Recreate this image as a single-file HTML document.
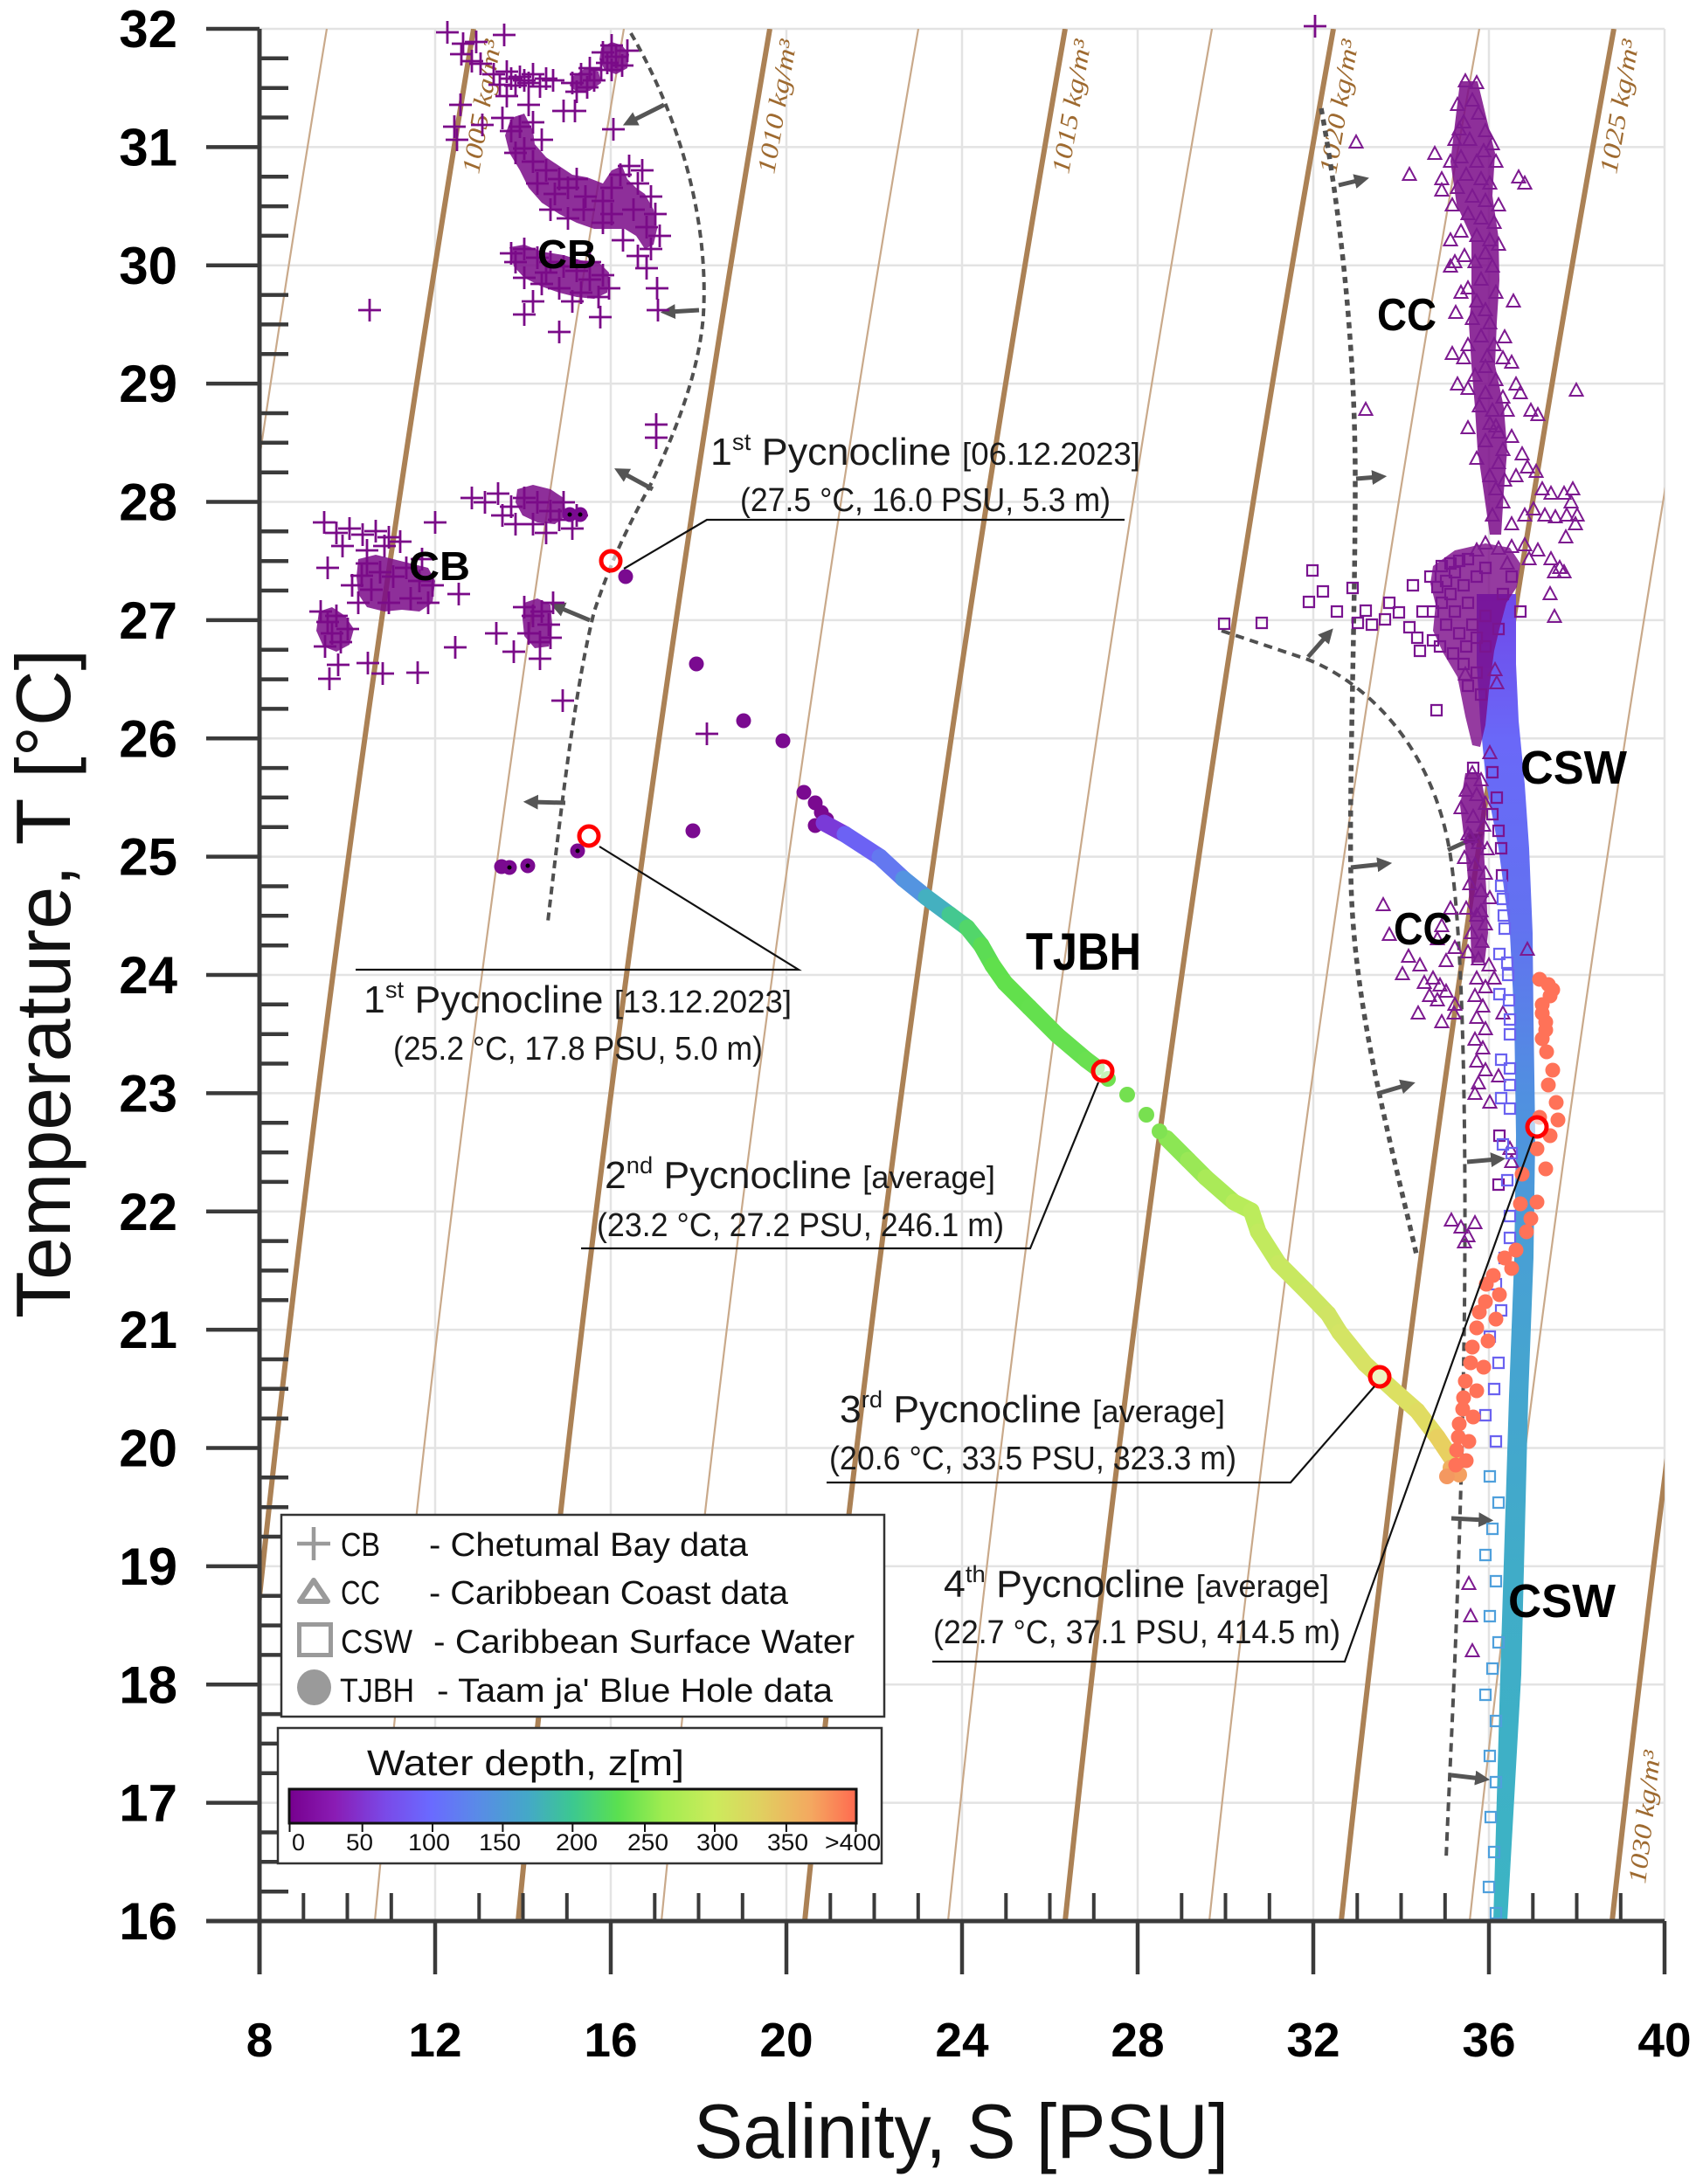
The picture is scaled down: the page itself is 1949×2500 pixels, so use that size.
<!DOCTYPE html>
<html><head><meta charset="utf-8"><style>html,body{margin:0;padding:0;background:#fff}svg{display:block}</style></head>
<body>
<svg xmlns="http://www.w3.org/2000/svg" width="1949" height="2500" viewBox="0 0 1949 2500" font-family="'Liberation Sans', 'DejaVu Sans', sans-serif">
<defs>
<clipPath id="pc"><rect x="297" y="33" width="1608" height="2166"/></clipPath>
<linearGradient id="cbar" x1="0" y1="0" x2="1" y2="0">
<stop offset="0" stop-color="#76008e"/><stop offset="0.08" stop-color="#8a1cb4"/><stop offset="0.17" stop-color="#7a4ae8"/><stop offset="0.25" stop-color="#6a6aff"/><stop offset="0.33" stop-color="#5a8ae8"/><stop offset="0.42" stop-color="#44a8c8"/><stop offset="0.5" stop-color="#3cc890"/><stop offset="0.58" stop-color="#5ae050"/><stop offset="0.66" stop-color="#a0ec50"/><stop offset="0.75" stop-color="#cceb5c"/><stop offset="0.83" stop-color="#e0d060"/><stop offset="0.92" stop-color="#f4a860"/><stop offset="1" stop-color="#ff6a50"/>
</linearGradient>
<linearGradient id="band" gradientUnits="userSpaceOnUse" x1="0" y1="680" x2="0" y2="2199">
<stop offset="0" stop-color="#7048e8"/><stop offset="0.11" stop-color="#6a68f8"/><stop offset="0.25" stop-color="#6272f0"/><stop offset="0.38" stop-color="#5090e0"/><stop offset="0.5" stop-color="#48a0d4"/><stop offset="0.74" stop-color="#40acc8"/><stop offset="1" stop-color="#3cb4c4"/>
</linearGradient>
<marker id="ar" viewBox="0 0 10 10" refX="4" refY="5" markerWidth="3.4" markerHeight="3.4" orient="auto"><path d="M0,0L10,5L0,10z" fill="#555"/></marker>
</defs>
<rect width="1949" height="2500" fill="#fff"/>

<!-- grid -->
<path fill="none" stroke="#e3e3e3" stroke-width="2.5" d="M498,33V2199M699,33V2199M900,33V2199M1101,33V2199M1302,33V2199M1503,33V2199M1704,33V2199M1905,33V2199M297,2063.6H1905M297,1928.3H1905M297,1792.9H1905M297,1657.5H1905M297,1522.1H1905M297,1386.8H1905M297,1251.4H1905M297,1116H1905M297,980.6H1905M297,845.3H1905M297,709.9H1905M297,574.5H1905M297,439.1H1905M297,303.8H1905M297,168.4H1905M297,33H1905"/>

<!-- isopycnals -->
<g clip-path="url(#pc)" fill="none">
<path stroke="#c9a98a" stroke-width="2.2" d="M374,33Q195,1116 96,2199M714,33Q531.5,1116 429,2199M1051,33Q864,1116 757,2199M1387,33Q1196,1116 1085,2199M1693,33Q1498.5,1116 1384,2199M1997,33Q1799.5,1116 1682,2199"/>
<path stroke="#ab8155" stroke-width="6" d="M542,33Q361,1116 260,2199M881,33Q697,1116 593,2199M1219,33Q1030,1116 921,2199M1526,33Q1332.5,1116 1219,2199M1847,33Q1651,1116 1535,2199M2163,33Q1964,1116 1845,2199"/>
</g>
<g font-family="'Liberation Serif', serif" font-style="italic" font-size="29" fill="#9e6a30">
<text transform="translate(548,200) rotate(-80.5)" textLength="155" lengthAdjust="spacingAndGlyphs">1005 kg/m³</text>
<text transform="translate(886,200) rotate(-80.5)" textLength="155" lengthAdjust="spacingAndGlyphs">1010 kg/m³</text>
<text transform="translate(1223,200) rotate(-80.5)" textLength="155" lengthAdjust="spacingAndGlyphs">1015 kg/m³</text>
<text transform="translate(1529,200) rotate(-80.5)" textLength="155" lengthAdjust="spacingAndGlyphs">1020 kg/m³</text>
<text transform="translate(1850,200) rotate(-80.5)" textLength="155" lengthAdjust="spacingAndGlyphs">1025 kg/m³</text>
<text transform="translate(1883,2157) rotate(-83.5)" textLength="153" lengthAdjust="spacingAndGlyphs">1030 kg/m³</text>
</g>

<!-- dashed guide curves -->
<g fill="none" stroke="#505050">
<path stroke-width="4" stroke-dasharray="9 6" d="M722,38C770,120 812,240 805,360C800,430 770,500 746,552C720,600 700,640 680,700C660,780 645,900 627,1055"/>
<path stroke-width="5.5" stroke-dasharray="7 6" d="M1512,124C1535,250 1551,400 1551,550C1551,700 1544,900 1546,1000C1548,1150 1590,1300 1622,1440"/>
<path stroke-width="4" stroke-dasharray="10 7" d="M1398,722L1497,755C1560,780 1640,850 1660,980C1675,1080 1678,1300 1676,1500C1672,1800 1660,2000 1655,2128"/>
</g>
<g stroke="#555" stroke-width="5" marker-end="url(#ar)" fill="none">
<path d="M760,120L722,139"/><path d="M800,355L766,357"/><path d="M747,560L712,541"/><path d="M675,710L639,695"/><path d="M647,919L609,918"/>
<path d="M1532,212L1557,206"/><path d="M1552,548L1577,546"/><path d="M1497,752L1519,727"/><path d="M1546,993L1583,989"/><path d="M1657,973L1688,959"/><path d="M1576,1252L1610,1242"/><path d="M1679,1330L1713,1327"/><path d="M1661,1738L1699,1740"/><path d="M1661,2032L1695,2036"/>
</g>

<!-- CSW band -->
<path fill="url(#band)" d="M1690,680L1690,760L1694,825L1701,898L1715,971L1728,1068L1733,1165L1735,1300L1733,1440L1727,1598L1717,1917L1709,2199L1725,2199L1741,1917L1749,1598L1755,1440L1757,1300L1755,1165L1754,1068L1750,971L1745,898L1738,825L1735,760L1735,680Z"/>

<!-- CB dense fills -->
<g fill="#7a0a88" fill-opacity="0.85">
<path d="M585,135L600,130L610,150L612,165L625,180L640,190L655,200L672,203L690,210L700,195L712,190L718,205L728,215L738,222L748,240L752,262L748,280L738,285L728,270L715,262L700,262L680,262L660,255L640,245L620,232L605,215L595,195L583,175L578,155Z"/>
<path d="M583,283L600,280L620,288L645,292L665,298L685,300L697,312L695,335L680,342L660,340L640,335L620,328L600,318L588,305Z"/>
<path d="M688,55L700,48L712,52L720,62L718,78L705,85L692,80L686,68Z"/>
<path d="M655,88L670,78L685,82L688,95L675,104L660,105L652,98Z"/>
<path d="M365,700L380,695L395,705L405,720L400,738L385,746L370,740L362,722Z"/>
<path d="M410,640L430,635L450,640L470,645L490,650L498,665L495,690L480,700L460,698L440,700L420,695L410,680L408,660Z"/>
<path d="M592,560L610,555L630,560L645,570L648,590L635,600L615,598L598,590L590,575Z"/>
<path d="M600,690L615,685L630,692L632,715L628,740L612,742L600,728L598,708Z"/>
</g>
<!-- CB crosses -->
<path fill="none" stroke="#7a0a88" stroke-width="2.8" d="M499,37h26m-13-13v26M517,50h26m-13-13v26M532,48h26m-13-13v26M515,62h26m-13-13v26M527,70h26m-13-13v26M537,73h26m-13-13v26M564,40h26m-13-13v26M514,120h26m-13-13v26M510,160h26m-13-13v26M539,143h26m-13-13v26M507,145h26m-13-13v26M552,85h26m-13-13v26M567,82h26m-13-13v26M582,88h26m-13-13v26M597,85h26m-13-13v26M612,90h26m-13-13v26M559,97h26m-13-13v26M577,98h26m-13-13v26M592,95h26m-13-13v26M605,99h26m-13-13v26M620,92h26m-13-13v26M572,90h26m-13-13v26M587,92h26m-13-13v26M677,60h26m-13-13v26M687,52h26m-13-13v26M692,65h26m-13-13v26M699,75h26m-13-13v26M682,72h26m-13-13v26M705,58h26m-13-13v26M687,80h26m-13-13v26M642,95h26m-13-13v26M652,85h26m-13-13v26M659,100h26m-13-13v26M667,92h26m-13-13v26M675,80h26m-13-13v26M647,105h26m-13-13v26M662,78h26m-13-13v26M632,127h26m-13-13v26M645,127h26m-13-13v26M689,148h26m-13-13v26M562,135h26m-13-13v26M572,150h26m-13-13v26M582,145h26m-13-13v26M597,140h26m-13-13v26M607,160h26m-13-13v26M587,170h26m-13-13v26M577,175h26m-13-13v26M597,185h26m-13-13v26M612,195h26m-13-13v26M627,205h26m-13-13v26M637,215h26m-13-13v26M647,205h26m-13-13v26M657,225h26m-13-13v26M677,230h26m-13-13v26M687,215h26m-13-13v26M697,200h26m-13-13v26M707,190h26m-13-13v26M722,195h26m-13-13v26M717,210h26m-13-13v26M732,225h26m-13-13v26M737,245h26m-13-13v26M727,260h26m-13-13v26M742,270h26m-13-13v26M732,285h26m-13-13v26M717,293h26m-13-13v26M727,307h26m-13-13v26M739,330h26m-13-13v26M740,355h26m-13-13v26M617,240h26m-13-13v26M637,250h26m-13-13v26M677,255h26m-13-13v26M687,245h26m-13-13v26M572,290h26m-13-13v26M587,285h26m-13-13v26M602,295h26m-13-13v26M617,300h26m-13-13v26M632,305h26m-13-13v26M647,310h26m-13-13v26M662,300h26m-13-13v26M677,315h26m-13-13v26M587,318h26m-13-13v26M607,325h26m-13-13v26M627,330h26m-13-13v26M652,335h26m-13-13v26M672,340h26m-13-13v26M684,330h26m-13-13v26M642,345h26m-13-13v26M587,360h26m-13-13v26M627,380h26m-13-13v26M674,363h26m-13-13v26M597,345h26m-13-13v26M358,598h26m-13-13v26M485,598h26m-13-13v26M372,610h26m-13-13v26M387,605h26m-13-13v26M402,612h26m-13-13v26M417,608h26m-13-13v26M432,615h26m-13-13v26M445,620h26m-13-13v26M379,625h26m-13-13v26M407,630h26m-13-13v26M427,625h26m-13-13v26M401,659h26m-13-13v26M512,680h26m-13-13v26M407,645h26m-13-13v26M422,655h26m-13-13v26M437,660h26m-13-13v26M452,650h26m-13-13v26M467,665h26m-13-13v26M482,670h26m-13-13v26M412,675h26m-13-13v26M432,690h26m-13-13v26M457,685h26m-13-13v26M477,690h26m-13-13v26M397,690h26m-13-13v26M354,700h26m-13-13v26M362,712h26m-13-13v26M372,705h26m-13-13v26M367,725h26m-13-13v26M377,735h26m-13-13v26M359,740h26m-13-13v26M385,720h26m-13-13v26M364,777h26m-13-13v26M374,761h26m-13-13v26M408,759h26m-13-13v26M425,771h26m-13-13v26M465,770h26m-13-13v26M508,741h26m-13-13v26M527,570h26m-13-13v26M542,575h26m-13-13v26M557,565h26m-13-13v26M572,580h26m-13-13v26M587,570h26m-13-13v26M602,575h26m-13-13v26M617,585h26m-13-13v26M632,575h26m-13-13v26M647,590h26m-13-13v26M597,600h26m-13-13v26M612,610h26m-13-13v26M627,595h26m-13-13v26M642,605h26m-13-13v26M562,590h26m-13-13v26M587,695h26m-13-13v26M597,705h26m-13-13v26M607,700h26m-13-13v26M615,715h26m-13-13v26M592,725h26m-13-13v26M605,735h26m-13-13v26M617,730h26m-13-13v26M555,725h26m-13-13v26M575,746h26m-13-13v26M605,754h26m-13-13v26M631,802h26m-13-13v26M796,840h26m-13-13v26M738,486h26m-13-13v26M738,501h26m-13-13v26M410,355h26m-13-13v26M1492,30h26m-13-13v26M567,110h26m-13-13v26M592,120h26m-13-13v26M602,210h26m-13-13v26M622,222h26m-13-13v26M655,240h26m-13-13v26M700,275h26m-13-13v26M712,240h26m-13-13v26M577,300h26m-13-13v26M612,312h26m-13-13v26M662,320h26m-13-13v26M362,650h26m-13-13v26M390,670h26m-13-13v26M470,640h26m-13-13v26M577,600h26m-13-13v26M620,690h26m-13-13v26"/>

<!-- CC dense fills -->
<g fill="#7a0a88" fill-opacity="0.85">
<path d="M1671,93L1664,151L1660,185L1667,234L1684,272L1684,345L1681,369L1684,418L1688,466L1691,515L1698,563L1705,612L1718,612L1721,563L1725,515L1721,466L1711,418L1713,369L1716,321L1715,272L1708,224L1711,175L1705,151L1691,93Z"/>
<path d="M1677,885L1671,922L1677,971L1681,1019L1683,1068L1684,1102L1699,1102L1703,1068L1701,1019L1698,971L1701,922L1694,885Z"/>
</g>
<path fill="#7a0a88" fill-opacity="0.8" d="M1640,648L1665,630L1700,622L1728,627L1740,645L1736,672L1724,690L1716,720L1710,745L1704,790L1700,830L1694,855L1685,853L1677,820L1668,775L1652,748L1640,722L1643,692L1637,668Z"/>
<!-- CC triangles -->
<path fill="none" stroke="#7d1a90" stroke-width="2" d="M1677,85l7.5,14h-15zM1690,87l7.5,14h-15zM1668,112l7.5,14h-15zM1685,107l7.5,14h-15zM1692,122l7.5,14h-15zM1675,132l7.5,14h-15zM1700,142l7.5,14h-15zM1665,152l7.5,14h-15zM1682,152l7.5,14h-15zM1708,157l7.5,14h-15zM1660,177l7.5,14h-15zM1672,172l7.5,14h-15zM1690,177l7.5,14h-15zM1712,177l7.5,14h-15zM1678,192l7.5,14h-15zM1695,197l7.5,14h-15zM1705,202l7.5,14h-15zM1668,207l7.5,14h-15zM1650,210l7.5,14h-15zM1685,217l7.5,14h-15zM1700,222l7.5,14h-15zM1715,227l7.5,14h-15zM1738,195l7.5,14h-15zM1745,202l7.5,14h-15zM1680,237l7.5,14h-15zM1695,242l7.5,14h-15zM1710,247l7.5,14h-15zM1672,257l7.5,14h-15zM1690,262l7.5,14h-15zM1705,267l7.5,14h-15zM1715,272l7.5,14h-15zM1660,267l7.5,14h-15zM1665,292l7.5,14h-15zM1700,282l7.5,14h-15zM1688,292l7.5,14h-15zM1708,297l7.5,14h-15zM1660,297l7.5,14h-15zM1695,312l7.5,14h-15zM1680,322l7.5,14h-15zM1712,327l7.5,14h-15zM1690,337l7.5,14h-15zM1700,347l7.5,14h-15zM1672,327l7.5,14h-15zM1732,337l7.5,14h-15zM1666,350l7.5,14h-15zM1685,357l7.5,14h-15zM1705,362l7.5,14h-15zM1695,377l7.5,14h-15zM1680,387l7.5,14h-15zM1710,387l7.5,14h-15zM1662,397l7.5,14h-15zM1675,402l7.5,14h-15zM1720,402l7.5,14h-15zM1730,407l7.5,14h-15zM1700,412l7.5,14h-15zM1688,422l7.5,14h-15zM1712,427l7.5,14h-15zM1668,432l7.5,14h-15zM1680,437l7.5,14h-15zM1700,442l7.5,14h-15zM1720,447l7.5,14h-15zM1735,432l7.5,14h-15zM1740,442l7.5,14h-15zM1693,457l7.5,14h-15zM1708,462l7.5,14h-15zM1725,462l7.5,14h-15zM1752,462l7.5,14h-15zM1760,467l7.5,14h-15zM1705,477l7.5,14h-15zM1715,487l7.5,14h-15zM1680,482l7.5,14h-15zM1730,492l7.5,14h-15zM1700,497l7.5,14h-15zM1720,507l7.5,14h-15zM1690,517l7.5,14h-15zM1742,512l7.5,14h-15zM1715,522l7.5,14h-15zM1705,537l7.5,14h-15zM1722,542l7.5,14h-15zM1735,537l7.5,14h-15zM1748,527l7.5,14h-15zM1758,532l7.5,14h-15zM1765,552l7.5,14h-15zM1775,557l7.5,14h-15zM1790,557l7.5,14h-15zM1800,552l7.5,14h-15zM1712,552l7.5,14h-15zM1720,567l7.5,14h-15zM1708,582l7.5,14h-15zM1730,592l7.5,14h-15zM1745,582l7.5,14h-15zM1755,575l7.5,14h-15zM1768,582l7.5,14h-15zM1780,584l7.5,14h-15zM1793,582l7.5,14h-15zM1805,582l7.5,14h-15zM1792,607l7.5,14h-15zM1803,592l7.5,14h-15zM1798,567l7.5,14h-15zM1552,155l7.5,14h-15zM1613,192l7.5,14h-15zM1563,461l7.5,14h-15zM1804,439l7.5,14h-15zM1779,647l7.5,14h-15zM1774,672l7.5,14h-15zM1779,698l7.5,14h-15zM1642,168l7.5,14h-15zM1650,197l7.5,14h-15zM1662,227l7.5,14h-15zM1722,378l7.5,14h-15zM1700,614l7.5,14h-15zM1715,620l7.5,14h-15zM1730,618l7.5,14h-15zM1745,616l7.5,14h-15zM1760,622l7.5,14h-15zM1775,632l7.5,14h-15zM1785,642l7.5,14h-15zM1790,647l7.5,14h-15zM1750,632l7.5,14h-15zM1725,637l7.5,14h-15zM1690,622l7.5,14h-15zM1685,877l7.5,14h-15zM1695,885l7.5,14h-15zM1678,897l7.5,14h-15zM1690,902l7.5,14h-15zM1700,912l7.5,14h-15zM1672,917l7.5,14h-15zM1686,927l7.5,14h-15zM1698,937l7.5,14h-15zM1680,947l7.5,14h-15zM1692,957l7.5,14h-15zM1702,964l7.5,14h-15zM1676,974l7.5,14h-15zM1688,982l7.5,14h-15zM1700,992l7.5,14h-15zM1682,1004l7.5,14h-15zM1695,1012l7.5,14h-15zM1705,1020l7.5,14h-15zM1678,1032l7.5,14h-15zM1690,1040l7.5,14h-15zM1700,1050l7.5,14h-15zM1684,1060l7.5,14h-15zM1696,1070l7.5,14h-15zM1680,1082l7.5,14h-15zM1692,1090l7.5,14h-15zM1704,1097l7.5,14h-15zM1660,1032l7.5,14h-15zM1650,1052l7.5,14h-15zM1665,1077l7.5,14h-15zM1655,1092l7.5,14h-15zM1645,1067l7.5,14h-15zM1583,1028l7.5,14h-15zM1590,1062l7.5,14h-15zM1623,1152l7.5,14h-15zM1748,1079l7.5,14h-15zM1630,1117l7.5,14h-15zM1640,1112l7.5,14h-15zM1648,1120l7.5,14h-15zM1636,1132l7.5,14h-15zM1645,1137l7.5,14h-15zM1655,1127l7.5,14h-15zM1665,1142l7.5,14h-15zM1650,1162l7.5,14h-15zM1664,1152l7.5,14h-15zM1690,1112l7.5,14h-15zM1700,1122l7.5,14h-15zM1688,1132l7.5,14h-15zM1697,1144l7.5,14h-15zM1690,1157l7.5,14h-15zM1700,1170l7.5,14h-15zM1688,1182l7.5,14h-15zM1697,1192l7.5,14h-15zM1690,1207l7.5,14h-15zM1700,1217l7.5,14h-15zM1692,1232l7.5,14h-15zM1688,1244l7.5,14h-15zM1705,1254l7.5,14h-15zM1715,1224l7.5,14h-15zM1720,1152l7.5,14h-15zM1710,1112l7.5,14h-15zM1661,1389l7.5,14h-15zM1672,1397l7.5,14h-15zM1680,1407l7.5,14h-15zM1688,1392l7.5,14h-15zM1676,1414l7.5,14h-15zM1681,1805l7.5,14h-15zM1683,1842l7.5,14h-15zM1685,1882l7.5,14h-15zM1728,1307l7.5,14h-15zM1730,1322l7.5,14h-15zM1677,764l7.5,14h-15zM1711,759l7.5,14h-15zM1713,774l7.5,14h-15zM1705,854l7.5,14h-15zM1612,1087l7.5,14h-15zM1625,1097l7.5,14h-15zM1605,1107l7.5,14h-15zM1670,140l7.5,14h-15zM1698,165l7.5,14h-15zM1676,285l7.5,14h-15zM1702,400l7.5,14h-15zM1712,480l7.5,14h-15zM1683,950l7.5,14h-15zM1695,1035l7.5,14h-15z"/>

<!-- CSW squares -->
<path fill="none" stroke="#7a1490" stroke-width="2.2" d="M1438,707h12v12h-12zM1496,647h12v12h-12zM1508,671h12v12h-12zM1492,683h12v12h-12zM1542,667h12v12h-12zM1557,693h12v12h-12zM1548,707h12v12h-12zM1579,703h12v12h-12zM1595,695h12v12h-12zM1607,712h12v12h-12zM1611,664h12v12h-12zM1616,724h12v12h-12zM1631,654h12v12h-12zM1634,727h12v12h-12zM1644,642h12v12h-12zM1654,639h12v12h-12zM1664,636h12v12h-12zM1674,634h12v12h-12zM1659,649h12v12h-12zM1649,659h12v12h-12zM1639,666h12v12h-12zM1654,674h12v12h-12zM1669,664h12v12h-12zM1684,654h12v12h-12zM1694,644h12v12h-12zM1644,684h12v12h-12zM1659,694h12v12h-12zM1674,684h12v12h-12zM1634,694h12v12h-12zM1649,709h12v12h-12zM1664,719h12v12h-12zM1679,709h12v12h-12zM1694,699h12v12h-12zM1642,734h12v12h-12zM1657,742h12v12h-12zM1672,734h12v12h-12zM1684,724h12v12h-12zM1669,754h12v12h-12zM1684,764h12v12h-12zM1674,779h12v12h-12zM1689,789h12v12h-12zM1680,873h12v12h-12zM1638,807h12v12h-12zM1395,708h12v12h-12zM1694,734h12v12h-12zM1709,714h12v12h-12zM1714,674h12v12h-12zM1724,654h12v12h-12zM1734,694h12v12h-12zM1584,684h12v12h-12zM1524,694h12v12h-12zM1564,709h12v12h-12zM1619,739h12v12h-12zM1622,694h12v12h-12zM1702,878h12v12h-12zM1707,907h12v12h-12zM1702,926h12v12h-12zM1709,945h12v12h-12zM1712,965h12v12h-12zM1713,996h12v12h-12zM1710,1294h12v12h-12zM1709,1350h12v12h-12z"/>
<path fill="none" stroke="#6a62f0" stroke-width="2.2" d="M1712,1008h12v12h-12zM1714,1023h12v12h-12zM1715,1042h12v12h-12zM1716,1057h12v12h-12zM1710,1086h12v12h-12zM1719,1096h12v12h-12zM1720,1110h12v12h-12zM1710,1132h12v12h-12zM1721,1139h12v12h-12zM1722,1161h12v12h-12zM1722,1178h12v12h-12zM1712,1207h12v12h-12zM1722,1217h12v12h-12zM1722,1236h12v12h-12zM1712,1251h12v12h-12zM1722,1263h12v12h-12zM1714,1304h12v12h-12zM1724,1314h12v12h-12zM1719,1345h12v12h-12zM1722,1386h12v12h-12zM1722,1411h12v12h-12zM1716,1434h12v12h-12zM1706,1464h12v12h-12zM1712,1494h12v12h-12zM1699,1524h12v12h-12zM1709,1554h12v12h-12zM1704,1584h12v12h-12zM1694,1614h12v12h-12zM1706,1644h12v12h-12z"/>
<path fill="none" stroke="#4fa0dc" stroke-width="2.2" d="M1699,1684h12v12h-12zM1709,1714h12v12h-12zM1702,1744h12v12h-12zM1694,1774h12v12h-12zM1706,1804h12v12h-12zM1699,1844h12v12h-12zM1709,1874h12v12h-12zM1702,1904h12v12h-12zM1694,1934h12v12h-12zM1706,1964h12v12h-12zM1699,2004h12v12h-12zM1706,2034h12v12h-12zM1700,2074h12v12h-12zM1704,2114h12v12h-12zM1698,2154h12v12h-12zM1706,2184h12v12h-12z"/>

<!-- TJBH -->
<g fill="#7a0a90">
<circle cx="716" cy="660" r="8.5"/><circle cx="797" cy="760" r="8.5"/><circle cx="851" cy="825" r="8.5"/><circle cx="896" cy="848" r="8.5"/><circle cx="920" cy="907" r="8.5"/><circle cx="933" cy="919" r="8.5"/><circle cx="940" cy="930" r="8.5"/><circle cx="946" cy="938" r="8.5"/><circle cx="933" cy="945" r="8.5"/><circle cx="793" cy="951" r="8.5"/><circle cx="661" cy="974" r="8.5"/><circle cx="574" cy="992" r="8.5"/><circle cx="604" cy="991" r="8.5"/><circle cx="583" cy="993" r="8.5"/><circle cx="652" cy="589" r="8.5"/><circle cx="664" cy="589" r="8.5"/>
</g>
<g fill="#000"><circle cx="661" cy="974" r="2.5"/><circle cx="604" cy="991" r="2.5"/><circle cx="583" cy="993" r="2.5"/><circle cx="652" cy="589" r="2.5"/><circle cx="664" cy="589" r="2.5"/></g>
<g fill="none" stroke-width="19" stroke-linecap="round">
<path d="M943,942L967,955" stroke="#7a3ad8"/>
<path d="M967,955L1007,981" stroke="#6c62f4"/>
<path d="M1007,981L1034,1006" stroke="#6478f0"/>
<path d="M1034,1006L1060,1027" stroke="#5494e0"/>
<path d="M1060,1027L1087,1047" stroke="#44b0c0"/>
<path d="M1087,1047L1107,1062" stroke="#44c890"/>
<path d="M1107,1062L1123,1082" stroke="#52d66a"/>
<path d="M1123,1082L1136,1105" stroke="#5cdc54"/>
<path d="M1136,1105L1150,1125" stroke="#60e04c"/>
<path d="M1150,1125L1178,1153" stroke="#62e04c"/>
<path d="M1178,1153L1210,1185" stroke="#64e04e"/>
<path d="M1210,1185L1243,1213" stroke="#66e050"/>
<path d="M1243,1213L1255,1222" stroke="#6ae050"/>
<path d="M1335,1303L1360,1328" stroke="#8ce654"/>
<path d="M1360,1328L1380,1348" stroke="#9ae856"/>
<path d="M1380,1348L1412,1376" stroke="#aaea58"/>
<path d="M1412,1376L1432,1386" stroke="#b8ec5a"/>
<path d="M1432,1386L1440,1410" stroke="#bcec5c"/>
<path d="M1440,1410L1463,1446" stroke="#c2ea5e"/>
<path d="M1463,1446L1495,1478" stroke="#c8e860"/>
<path d="M1495,1478L1520,1504" stroke="#cce662"/>
<path d="M1520,1504L1533,1525" stroke="#d0e464"/>
<path d="M1533,1525L1562,1561" stroke="#d4e464"/>
<path d="M1562,1561L1597,1593" stroke="#d8e264"/>
<path d="M1597,1593L1622,1615" stroke="#dce062"/>
<path d="M1622,1615L1645,1645" stroke="#e0dc62"/>
<path d="M1645,1645L1661,1669" stroke="#e8d060"/>
</g>
<g>
<circle cx="1268" cy="1235" r="9" fill="#70e050"/><circle cx="1290" cy="1253" r="9" fill="#74e050"/><circle cx="1312" cy="1276" r="9" fill="#78e050"/><circle cx="1327" cy="1295" r="9" fill="#80e252"/>
<circle cx="1660" cy="1680" r="9" fill="#f0b060"/><circle cx="1670" cy="1688" r="9" fill="#f4a060"/><circle cx="1656" cy="1690" r="9" fill="#f49860"/>
</g>
<g fill="#ff7258">
<circle cx="1762" cy="1121" r="8.5"/><circle cx="1772" cy="1127" r="8.5"/><circle cx="1777" cy="1133" r="8.5"/><circle cx="1774" cy="1140" r="8.5"/><circle cx="1765" cy="1150" r="8.5"/><circle cx="1765" cy="1160" r="8.5"/><circle cx="1769" cy="1170" r="8.5"/><circle cx="1769" cy="1179" r="8.5"/><circle cx="1765" cy="1189" r="8.5"/><circle cx="1770" cy="1204" r="8.5"/><circle cx="1777" cy="1225" r="8.5"/><circle cx="1772" cy="1242" r="8.5"/><circle cx="1781" cy="1262" r="8.5"/><circle cx="1762" cy="1279" r="8.5"/><circle cx="1774" cy="1300" r="8.5"/><circle cx="1759" cy="1315" r="8.5"/><circle cx="1769" cy="1338" r="8.5"/><circle cx="1742" cy="1344" r="8.5"/><circle cx="1759" cy="1376" r="8.5"/><circle cx="1740" cy="1378" r="8.5"/><circle cx="1747" cy="1410" r="8.5"/><circle cx="1735" cy="1431" r="8.5"/><circle cx="1722" cy="1440" r="8.5"/><circle cx="1709" cy="1460" r="8.5"/><circle cx="1701" cy="1470" r="8.5"/><circle cx="1700" cy="1490" r="8.5"/><circle cx="1693" cy="1502" r="8.5"/><circle cx="1690" cy="1520" r="8.5"/><circle cx="1685" cy="1542" r="8.5"/><circle cx="1683" cy="1560" r="8.5"/><circle cx="1677" cy="1581" r="8.5"/><circle cx="1675" cy="1600" r="8.5"/><circle cx="1674" cy="1613" r="8.5"/><circle cx="1670" cy="1630" r="8.5"/><circle cx="1669" cy="1645" r="8.5"/><circle cx="1667" cy="1660" r="8.5"/><circle cx="1666" cy="1677" r="8.5"/>
<circle cx="1730" cy="1452" r="8.5"/><circle cx="1716" cy="1482" r="8.5"/><circle cx="1712" cy="1510" r="8.5"/><circle cx="1703" cy="1535" r="8.5"/><circle cx="1698" cy="1565" r="8.5"/><circle cx="1690" cy="1592" r="8.5"/><circle cx="1686" cy="1622" r="8.5"/><circle cx="1681" cy="1650" r="8.5"/><circle cx="1678" cy="1672" r="8.5"/><circle cx="1752" cy="1395" r="8.5"/><circle cx="1783" cy="1282" r="8.5"/>
</g>

<!-- pycnocline markers -->
<g fill="#fff" fill-opacity="0.6" stroke="#ff0000" stroke-width="5">
<circle cx="699" cy="642" r="11"/><circle cx="674" cy="957" r="11"/><circle cx="1262" cy="1226" r="11"/><circle cx="1579" cy="1576" r="11"/><circle cx="1759" cy="1290" r="11"/>
</g>

<!-- annotation leaders -->
<path fill="none" stroke="#111" stroke-width="2.2" d="M714,651L809,595H1287M686,969L914,1110H407M1257,1239L1179,1429H665M1573,1587L1477,1697H946M1755,1301L1539,1902H1067"/>
<g fill="#1a1a1a">
<text x="813" y="532" font-size="44" textLength="492" lengthAdjust="spacingAndGlyphs">1<tspan font-size="27" dy="-17">st</tspan><tspan dy="17"> Pycnocline </tspan><tspan font-size="36">[06.12.2023]</tspan></text>
<text x="847" y="585" font-size="38" textLength="424" lengthAdjust="spacingAndGlyphs">(27.5 °C, 16.0 PSU, 5.3 m)</text>
<text x="416" y="1159" font-size="44" textLength="490" lengthAdjust="spacingAndGlyphs">1<tspan font-size="27" dy="-17">st</tspan><tspan dy="17"> Pycnocline </tspan><tspan font-size="36">[13.12.2023]</tspan></text>
<text x="450" y="1213" font-size="38" textLength="423" lengthAdjust="spacingAndGlyphs">(25.2 °C, 17.8 PSU, 5.0 m)</text>
<text x="692" y="1360" font-size="44" textLength="447" lengthAdjust="spacingAndGlyphs">2<tspan font-size="27" dy="-17">nd</tspan><tspan dy="17"> Pycnocline </tspan><tspan font-size="36">[average]</tspan></text>
<text x="683" y="1415" font-size="38" textLength="466" lengthAdjust="spacingAndGlyphs">(23.2 °C, 27.2 PSU, 246.1 m)</text>
<text x="961" y="1628" font-size="44" textLength="441" lengthAdjust="spacingAndGlyphs">3<tspan font-size="27" dy="-17">rd</tspan><tspan dy="17"> Pycnocline </tspan><tspan font-size="36">[average]</tspan></text>
<text x="949" y="1682" font-size="38" textLength="466" lengthAdjust="spacingAndGlyphs">(20.6 °C, 33.5 PSU, 323.3 m)</text>
<text x="1080" y="1828" font-size="44" textLength="441" lengthAdjust="spacingAndGlyphs">4<tspan font-size="27" dy="-17">th</tspan><tspan dy="17"> Pycnocline </tspan><tspan font-size="36">[average]</tspan></text>
<text x="1068" y="1881" font-size="38" textLength="466" lengthAdjust="spacingAndGlyphs">(22.7 °C, 37.1 PSU, 414.5 m)</text>
</g>

<!-- group labels -->
<g font-weight="bold" fill="#000">
<text x="615" y="307" font-size="46" textLength="68" lengthAdjust="spacingAndGlyphs">CB</text>
<text x="468" y="664" font-size="46" textLength="70" lengthAdjust="spacingAndGlyphs">CB</text>
<text x="1576" y="378" font-size="52" textLength="68" lengthAdjust="spacingAndGlyphs">CC</text>
<text x="1595" y="1081" font-size="52" textLength="67" lengthAdjust="spacingAndGlyphs">CC</text>
<text x="1740" y="897" font-size="54" textLength="122" lengthAdjust="spacingAndGlyphs">CSW</text>
<text x="1726" y="1851" font-size="54" textLength="123" lengthAdjust="spacingAndGlyphs">CSW</text>
<text x="1174" y="1110" font-size="60" textLength="132" lengthAdjust="spacingAndGlyphs">TJBH</text>
</g>

<!-- axes -->
<g stroke="#3a3a3a" fill="none">
<path stroke-width="5" d="M297,33V2260M236,2199H1905"/>
<path stroke-width="4.5" d="M236,2063.6H297M236,1928.3H297M236,1792.9H297M236,1657.5H297M236,1522.1H297M236,1386.8H297M236,1251.4H297M236,1116H297M236,980.6H297M236,845.3H297M236,709.9H297M236,574.5H297M236,439.1H297M236,303.8H297M236,168.4H297M236,33H297"/>
<path stroke-width="4.5" d="M297,2165.2H330M297,2131.3H330M297,2097.5H330M297,2029.8H330M297,1995.9H330M297,1962.1H330M297,1894.4H330M297,1860.6H330M297,1826.7H330M297,1759H330M297,1725.2H330M297,1691.3H330M297,1623.7H330M297,1589.8H330M297,1556H330M297,1488.3H330M297,1454.4H330M297,1420.6H330M297,1352.9H330M297,1319.1H330M297,1285.2H330M297,1217.5H330M297,1183.7H330M297,1149.8H330M297,1082.2H330M297,1048.3H330M297,1014.5H330M297,946.8H330M297,912.9H330M297,879.1H330M297,811.4H330M297,777.6H330M297,743.7H330M297,676H330M297,642.2H330M297,608.3H330M297,540.7H330M297,506.8H330M297,473H330M297,405.3H330M297,371.4H330M297,337.6H330M297,269.9H330M297,236.1H330M297,202.2H330M297,134.5H330M297,100.7H330M297,66.8H330"/>
<path stroke-width="4.5" d="M498,2199V2260M699,2199V2260M900,2199V2260M1101,2199V2260M1302,2199V2260M1503,2199V2260M1704,2199V2260M1905,2199V2260"/>
<path stroke-width="4" d="M347.3,2167V2199M397.5,2167V2199M447.8,2167V2199M548.3,2167V2199M598.5,2167V2199M648.8,2167V2199M749.3,2167V2199M799.5,2167V2199M849.8,2167V2199M950.3,2167V2199M1000.5,2167V2199M1050.8,2167V2199M1151.3,2167V2199M1201.5,2167V2199M1251.8,2167V2199M1352.3,2167V2199M1402.5,2167V2199M1452.8,2167V2199M1553.3,2167V2199M1603.5,2167V2199M1653.8,2167V2199M1754.3,2167V2199M1804.5,2167V2199M1854.8,2167V2199"/>
</g>
<g font-weight="bold" font-size="60" text-anchor="end" fill="#000">
<text x="203" y="2220">16</text><text x="203" y="2084.6">17</text><text x="203" y="1949.3">18</text><text x="203" y="1813.9">19</text><text x="203" y="1678.5">20</text><text x="203" y="1543.1">21</text><text x="203" y="1407.8">22</text><text x="203" y="1272.4">23</text><text x="203" y="1137">24</text><text x="203" y="1001.6">25</text><text x="203" y="866.3">26</text><text x="203" y="730.9">27</text><text x="203" y="595.5">28</text><text x="203" y="460.1">29</text><text x="203" y="324.8">30</text><text x="203" y="189.4">31</text><text x="203" y="54">32</text>
</g>
<g font-weight="bold" font-size="55" text-anchor="middle" fill="#000">
<text x="297" y="2354">8</text><text x="498" y="2354">12</text><text x="699" y="2354">16</text><text x="900" y="2354">20</text><text x="1101" y="2354">24</text><text x="1302" y="2354">28</text><text x="1503" y="2354">32</text><text x="1704" y="2354">36</text><text x="1905" y="2354">40</text>
</g>
<text x="794" y="2470" font-size="88" textLength="612" lengthAdjust="spacingAndGlyphs" fill="#111">Salinity, S [PSU]</text>
<text transform="translate(80,1126) rotate(-90)" font-size="88" text-anchor="middle" textLength="766" lengthAdjust="spacingAndGlyphs" fill="#111">Temperature, T [°C]</text>

<!-- legend 1 -->
<rect x="322" y="1734" width="690" height="231" fill="#fff" stroke="#333" stroke-width="2.5"/>
<path d="M340,1767H378M359,1748V1786" stroke="#9a9a9a" stroke-width="4.5" fill="none"/>
<path d="M359,1809L375,1833H343Z" stroke="#9a9a9a" stroke-width="6" fill="#fff" stroke-linejoin="round"/>
<rect x="342.5" y="1859.5" width="36" height="35" fill="none" stroke="#9a9a9a" stroke-width="5"/>
<ellipse cx="359.5" cy="1931.5" rx="19.5" ry="20.5" fill="#9a9a9a"/>
<g font-size="38" fill="#111">
<text x="390" y="1781" textLength="45" lengthAdjust="spacingAndGlyphs">CB</text>
<text x="491" y="1781" textLength="365" lengthAdjust="spacingAndGlyphs">- Chetumal Bay data</text>
<text x="390" y="1836" textLength="45" lengthAdjust="spacingAndGlyphs">CC</text>
<text x="491" y="1836" textLength="411" lengthAdjust="spacingAndGlyphs">- Caribbean Coast data</text>
<text x="390" y="1892" textLength="82" lengthAdjust="spacingAndGlyphs">CSW</text>
<text x="496" y="1892" textLength="482" lengthAdjust="spacingAndGlyphs">- Caribbean Surface Water</text>
<text x="389" y="1948" textLength="85" lengthAdjust="spacingAndGlyphs">TJBH</text>
<text x="500" y="1948" textLength="453" lengthAdjust="spacingAndGlyphs">- Taam ja' Blue Hole data</text>
</g>

<!-- legend 2 colorbar -->
<rect x="318" y="1978" width="691" height="155" fill="#fff" stroke="#333" stroke-width="2.5"/>
<text x="420" y="2032" font-size="41" textLength="363" lengthAdjust="spacingAndGlyphs" fill="#111">Water depth, z[m]</text>
<rect x="331" y="2048" width="649" height="39" fill="url(#cbar)" stroke="#111" stroke-width="3"/>
<path d="M331.5,2087V2097M414.7,2087V2097M495,2087V2097M575.4,2087V2097M655.3,2087V2097M738,2087V2097M818,2087V2097M899.9,2087V2097M979.5,2087V2097" stroke="#111" stroke-width="2"/>
<g font-size="27" fill="#111">
<text x="334" y="2118" textLength="15" lengthAdjust="spacingAndGlyphs">0</text>
<text x="396" y="2118" textLength="31" lengthAdjust="spacingAndGlyphs">50</text>
<text x="467" y="2118" textLength="48" lengthAdjust="spacingAndGlyphs">100</text>
<text x="548" y="2118" textLength="48" lengthAdjust="spacingAndGlyphs">150</text>
<text x="636" y="2118" textLength="48" lengthAdjust="spacingAndGlyphs">200</text>
<text x="718" y="2118" textLength="47" lengthAdjust="spacingAndGlyphs">250</text>
<text x="797" y="2118" textLength="48" lengthAdjust="spacingAndGlyphs">300</text>
<text x="878" y="2118" textLength="47" lengthAdjust="spacingAndGlyphs">350</text>
<text x="944" y="2118" textLength="64" lengthAdjust="spacingAndGlyphs">&gt;400</text>
</g>
</svg>
</body></html>
